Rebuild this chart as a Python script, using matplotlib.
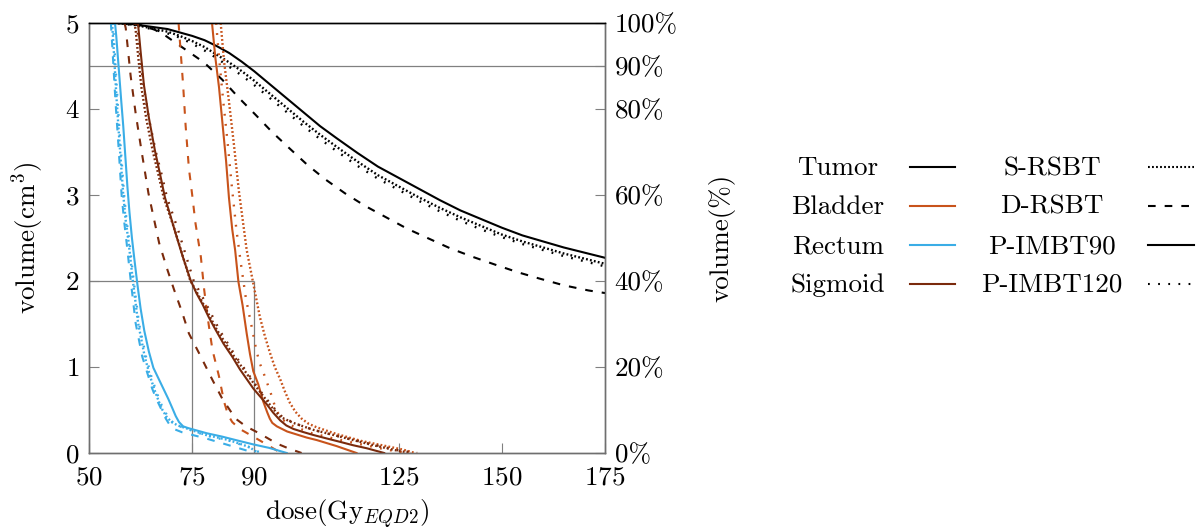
import numpy as np
import matplotlib.pyplot as plt
from matplotlib.lines import Line2D

plt.rcParams['font.family'] = 'serif'
plt.rcParams['font.serif'] = ['cmr10']
plt.rcParams['mathtext.fontset'] = 'cm'
plt.rcParams['axes.formatter.use_mathtext'] = True
plt.rcParams['lines.scale_dashes'] = False
plt.rcParams['font.size'] = 19.5

# ---- data: dose (Gy EQD2) vs. volume (cm^3) ----
# Tumor
tumor_dose = [57, 60, 63, 66, 69, 72, 75, 78, 81, 84, 87, 90, 93, 96, 99, 102, 106, 110, 115, 120, 125, 130, 135, 140, 145, 150, 155, 160, 165, 170, 175]
tumor_p90_vol = [5, 4.99, 4.97, 4.95, 4.93, 4.89, 4.85, 4.80, 4.73, 4.65, 4.55, 4.44, 4.32, 4.20, 4.08, 3.96, 3.80, 3.66, 3.49, 3.33, 3.20, 3.07, 2.94, 2.82, 2.72, 2.62, 2.53, 2.46, 2.39, 2.33, 2.27]
tumor_s_vol = [5, 4.985, 4.96, 4.93, 4.90, 4.85, 4.79, 4.72, 4.63, 4.54, 4.44, 4.33, 4.21, 4.09, 3.97, 3.85, 3.70, 3.56, 3.39, 3.23, 3.10, 2.97, 2.85, 2.74, 2.64, 2.54, 2.46, 2.39, 2.32, 2.26, 2.20]
tumor_p120_vol = [5, 4.98, 4.955, 4.92, 4.88, 4.83, 4.76, 4.68, 4.59, 4.49, 4.39, 4.28, 4.16, 4.04, 3.92, 3.80, 3.65, 3.51, 3.34, 3.19, 3.06, 2.93, 2.81, 2.70, 2.60, 2.51, 2.43, 2.36, 2.29, 2.23, 2.17]
tumor_d_dose = [57, 60, 63, 66, 68.6, 71, 73.4, 77.9, 82.3, 86.3, 90.4, 94.4, 98.4, 102.9, 107.3, 112, 117, 122, 127, 132, 137.5, 143, 148.4, 154, 159, 165, 171, 175]
tumor_d_vol = [5, 4.995, 4.97, 4.92, 4.85, 4.77, 4.69, 4.54, 4.34, 4.13, 3.93, 3.73, 3.55, 3.35, 3.18, 3.02, 2.87, 2.74, 2.61, 2.50, 2.38, 2.28, 2.19, 2.10, 2.03, 1.95, 1.89, 1.86]

# Bladder
bladder_p90_dose = [79.8, 80.6, 81.5, 82.4, 83.2, 83.9, 84.7, 85.4, 86.2, 87.2, 88.2, 89.0, 89.8, 91.0, 92.2, 93.2, 93.8, 94.4, 95.5, 98, 102.7, 105.2, 110, 114.8]
bladder_p90_vol = [5, 4.6, 4.25, 3.8, 3.4, 2.97, 2.6, 2.36, 1.99, 1.72, 1.39, 1.15, 0.95, 0.80, 0.60, 0.47, 0.40, 0.35, 0.31, 0.25, 0.18, 0.15, 0.08, 0.0]
bladder_s_dose = [81.9, 82.7, 83.9, 85.1, 86.3, 87.4, 88.2, 89.8, 91.4, 92.6, 93.8, 95.0, 96.3, 97.5, 98.7, 100.0, 101.5, 103.2, 105.1, 110, 116, 122, 126, 129]
bladder_s_vol = [5, 4.56, 4.09, 3.59, 3.05, 2.65, 2.36, 1.97, 1.58, 1.36, 1.17, 1.00, 0.86, 0.71, 0.58, 0.48, 0.40, 0.34, 0.30, 0.22, 0.14, 0.08, 0.04, 0.0]
bladder_p120_dose = [80.8, 81.5, 82.5, 83.6, 84.6, 85.7, 86.8, 88.0, 89.4, 90.6, 91.4, 92.6, 94.0, 95.2, 96.5, 99, 104, 110, 116, 122, 127]
bladder_p120_vol = [5, 4.6, 4.1, 3.6, 3.1, 2.6, 2.2, 1.8, 1.47, 1.18, 1.04, 0.89, 0.70, 0.52, 0.40, 0.32, 0.23, 0.16, 0.10, 0.04, 0.0]
bladder_d_dose = [71.7, 72.2, 72.8, 73.4, 74.2, 75.0, 75.8, 77.1, 77.9, 78.7, 79.9, 81.5, 82.7, 83.7, 84.7, 86.5, 89.8, 93, 96.5]
bladder_d_vol = [5, 4.67, 4.28, 3.81, 3.31, 3.0, 2.67, 2.28, 1.90, 1.59, 1.20, 0.89, 0.60, 0.44, 0.36, 0.28, 0.19, 0.10, 0.0]

# Rectum
rectum_p90_dose = [56.3, 56.6, 57.0, 57.4, 57.8, 58.3, 58.8, 59.3, 59.8, 60.4, 61.0, 61.7, 62.5, 63.4, 64.5, 65.6, 66.8, 68.0, 69.2, 70.2, 71.0, 71.8, 72.8, 74.0, 75.5, 78.5, 82.3, 86, 89.8, 93.6, 97.9]
rectum_p90_vol = [5, 4.85, 4.6, 4.35, 4.1, 3.8, 3.45, 3.1, 2.8, 2.5, 2.25, 1.97, 1.68, 1.42, 1.18, 0.99, 0.87, 0.75, 0.63, 0.52, 0.43, 0.36, 0.31, 0.29, 0.27, 0.23, 0.19, 0.145, 0.10, 0.06, 0.0]
rectum_s_dose = [55.6, 56.1, 56.7, 57.4, 58.3, 58.9, 59.6, 60.6, 61.9, 63.5, 64.8, 65.9, 66.9, 67.8, 68.8, 70.0, 71.5, 73.4, 78.3, 83.9, 88.8, 91.0]
rectum_s_vol = [5, 4.6, 4.1, 3.6, 3.0, 2.7, 2.45, 2.01, 1.51, 1.12, 0.89, 0.73, 0.60, 0.50, 0.42, 0.36, 0.32, 0.29, 0.21, 0.15, 0.07, 0.0]
rectum_p120_dose = [55.8, 56.3, 56.9, 57.6, 58.5, 59.1, 59.8, 60.8, 62.1, 63.8, 65.1, 66.2, 67.2, 68.1, 69.2, 70.4, 72.0, 73.8, 78.6, 84.2, 89.2, 91.6]
rectum_p120_vol = [5, 4.6, 4.1, 3.6, 3.0, 2.7, 2.45, 2.01, 1.51, 1.12, 0.89, 0.73, 0.60, 0.50, 0.42, 0.35, 0.31, 0.28, 0.20, 0.14, 0.06, 0.0]
rectum_d_dose = [55.3, 55.8, 56.4, 57.1, 57.9, 58.5, 59.1, 60.1, 61.3, 62.9, 64.0, 65.3, 66.2, 67.0, 67.8, 68.6, 69.5, 70.5, 72.6, 78.3, 83.9, 88.8, 89.5]
rectum_d_vol = [5, 4.6, 4.1, 3.6, 3.0, 2.7, 2.45, 2.01, 1.51, 1.12, 0.95, 0.75, 0.64, 0.56, 0.48, 0.40, 0.33, 0.28, 0.24, 0.17, 0.09, 0.02, 0.0]

# Sigmoid
sigmoid_p90_dose = [61.5, 61.9, 62.5, 63.3, 64.5, 66.0, 67.4, 68.4, 69.6, 71.0, 72.8, 74.6, 76.0, 77.5, 79.0, 80.7, 82.6, 84.7, 86.6, 88.2, 89.8, 91.4, 93.0, 94.6, 96.3, 97.8, 99.5, 101.8, 104.3, 107.5, 110.8, 114.0, 117.3, 121.5]
sigmoid_p90_vol = [5, 4.98, 4.67, 4.28, 3.90, 3.51, 3.20, 2.97, 2.78, 2.55, 2.27, 2.01, 1.86, 1.73, 1.58, 1.43, 1.27, 1.12, 0.97, 0.86, 0.75, 0.66, 0.57, 0.47, 0.38, 0.32, 0.28, 0.245, 0.21, 0.17, 0.13, 0.09, 0.055, 0.0]
sigmoid_s_dose = [61.0, 61.3, 61.9, 62.7, 63.9, 65.5, 67.0, 68.1, 70.8, 74.5, 77.6, 81.0, 85.2, 87.5, 90.8, 94.0, 96.3, 99.5, 104.3, 110.8, 118.9, 124.5, 128.0]
sigmoid_s_vol = [5, 4.92, 4.62, 4.25, 3.88, 3.50, 3.20, 2.97, 2.59, 2.01, 1.74, 1.43, 1.12, 0.97, 0.75, 0.55, 0.42, 0.35, 0.27, 0.19, 0.09, 0.03, 0.0]
sigmoid_p120_dose = [61.3, 61.7, 62.3, 63.2, 64.5, 66.2, 67.8, 68.9, 71.6, 75.3, 78.3, 81.6, 85.6, 87.8, 91.0, 94.3, 96.8, 100.0, 105.0, 111.5, 119.5, 125.0, 129.5]
sigmoid_p120_vol = [5, 4.95, 4.65, 4.27, 3.89, 3.50, 3.20, 2.97, 2.59, 2.01, 1.74, 1.43, 1.12, 0.97, 0.75, 0.55, 0.42, 0.34, 0.26, 0.18, 0.09, 0.03, 0.0]
sigmoid_d_dose = [58.6, 58.9, 60.1, 61.3, 62.7, 64.4, 67.0, 69.0, 70.6, 72.6, 74.2, 77.1, 79.9, 82.3, 85.5, 88, 90.4, 93, 95.5, 98.5, 101.5]
sigmoid_d_vol = [5, 4.94, 4.38, 3.95, 3.52, 3.02, 2.44, 2.13, 1.90, 1.63, 1.39, 1.12, 0.85, 0.63, 0.40, 0.31, 0.25, 0.18, 0.11, 0.05, 0.0]

organs = ['Tumor', 'Bladder', 'Rectum', 'Sigmoid']
plans = ['S-RSBT', 'D-RSBT', 'P-IMBT90', 'P-IMBT120']
organ_colors = {'Tumor': 'black', 'Bladder': '#c8531b', 'Rectum': '#3aade6', 'Sigmoid': '#7a2a0c'}
plan_styles = {'S-RSBT': (0, (1.3, 1.6)), 'D-RSBT': (0, (5.5, 6.5)),
               'P-IMBT90': '-', 'P-IMBT120': (0, (1.3, 6.0))}

curves = [
    ('Tumor', 'P-IMBT90', tumor_dose, tumor_p90_vol),
    ('Tumor', 'S-RSBT', tumor_dose, tumor_s_vol),
    ('Tumor', 'P-IMBT120', tumor_dose, tumor_p120_vol),
    ('Tumor', 'D-RSBT', tumor_d_dose, tumor_d_vol),
    ('Bladder', 'P-IMBT90', bladder_p90_dose, bladder_p90_vol),
    ('Bladder', 'S-RSBT', bladder_s_dose, bladder_s_vol),
    ('Bladder', 'P-IMBT120', bladder_p120_dose, bladder_p120_vol),
    ('Bladder', 'D-RSBT', bladder_d_dose, bladder_d_vol),
    ('Rectum', 'P-IMBT90', rectum_p90_dose, rectum_p90_vol),
    ('Rectum', 'S-RSBT', rectum_s_dose, rectum_s_vol),
    ('Rectum', 'P-IMBT120', rectum_p120_dose, rectum_p120_vol),
    ('Rectum', 'D-RSBT', rectum_d_dose, rectum_d_vol),
    ('Sigmoid', 'P-IMBT90', sigmoid_p90_dose, sigmoid_p90_vol),
    ('Sigmoid', 'S-RSBT', sigmoid_s_dose, sigmoid_s_vol),
    ('Sigmoid', 'P-IMBT120', sigmoid_p120_dose, sigmoid_p120_vol),
    ('Sigmoid', 'D-RSBT', sigmoid_d_dose, sigmoid_d_vol),
]

# reference marks
d90_level = 4.5
ref_level = 2.0
ref_doses = [75, 90]

x_ticks = [50, 75, 90, 125, 150, 175]
y_ticks = [0, 1, 2, 3, 4, 5]
pct_ticks = [0, 20, 40, 60, 80, 90, 100]

gray = '#808080'

fig = plt.figure(figsize=(11.96, 5.31), dpi=100)
ax = fig.add_axes([89 / 1196, 1 - 453 / 531, (605 - 89) / 1196, (453 - 23) / 531])

ax.axhline(d90_level, color=gray, lw=0.9, zorder=1)
ax.hlines(ref_level, x_ticks[0], max(ref_doses), color=gray, lw=0.9, zorder=1)
ax.vlines(ref_doses, 0, ref_level, color=gray, lw=0.9, zorder=1)

for organ, plan, d, v in curves:
    lw = 1.5 if plan in ('P-IMBT90', 'D-RSBT') else 1.7
    ax.plot(d, v, color=organ_colors[organ], linestyle=plan_styles[plan], lw=lw, zorder=3)

ax.set_xlim(50, 175)
ax.set_ylim(0, 5)
ax.set_xticks(x_ticks)
ax.set_yticks(y_ticks)
ax.tick_params(direction='in', length=7, width=0.8, color=gray)
ax.tick_params(axis='x', pad=9)
ax.tick_params(axis='y', pad=7)

ax2 = ax.twinx()
ax2.set_ylim(0, 100)
ax2.set_yticks(pct_ticks)
ax2.set_yticklabels([f'{p}%' for p in pct_ticks])
ax2.tick_params(direction='in', length=7, width=0.8, color=gray, pad=7)

for a in (ax, ax2):
    for side in ('left', 'right', 'bottom'):
        a.spines[side].set_color('#6f6f6f')
        a.spines[side].set_linewidth(1.0)
    a.spines['top'].set_color('black')
    a.spines['top'].set_linewidth(1.0)

ax.set_ylabel(r'volume(cm$^3$)')
ax.yaxis.set_label_coords(-0.083, 0.5)
ax.set_xlabel(r'dose(Gy$_{EQD2}$)')
ax.xaxis.set_label_coords(0.5, -0.104)
ax2.set_ylabel('volume(%)')
ax2.yaxis.set_label_coords(1.200, 0.5)

# legend table drawn in figure pixels
row_y = [167, 206, 245, 284]
W, H = 1196, 531
for i, y in enumerate(row_y):
    fy = 1 - y / H
    fby = 1 - (y + 8) / H
    fig.text(838 / W, fby, organs[i], ha='center', va='baseline')
    fig.add_artist(Line2D([910 / W, 955 / W], [fy, fy], color=organ_colors[organs[i]],
                          lw=1.5, transform=fig.transFigure))
    fig.text(1052 / W, fby, plans[i], ha='center', va='baseline')
    fig.add_artist(Line2D([1148 / W, 1194 / W], [fy, fy], color='black',
                          linestyle=plan_styles[plans[i]], lw=1.5, transform=fig.transFigure))

fig.savefig('out.png', dpi=100)
